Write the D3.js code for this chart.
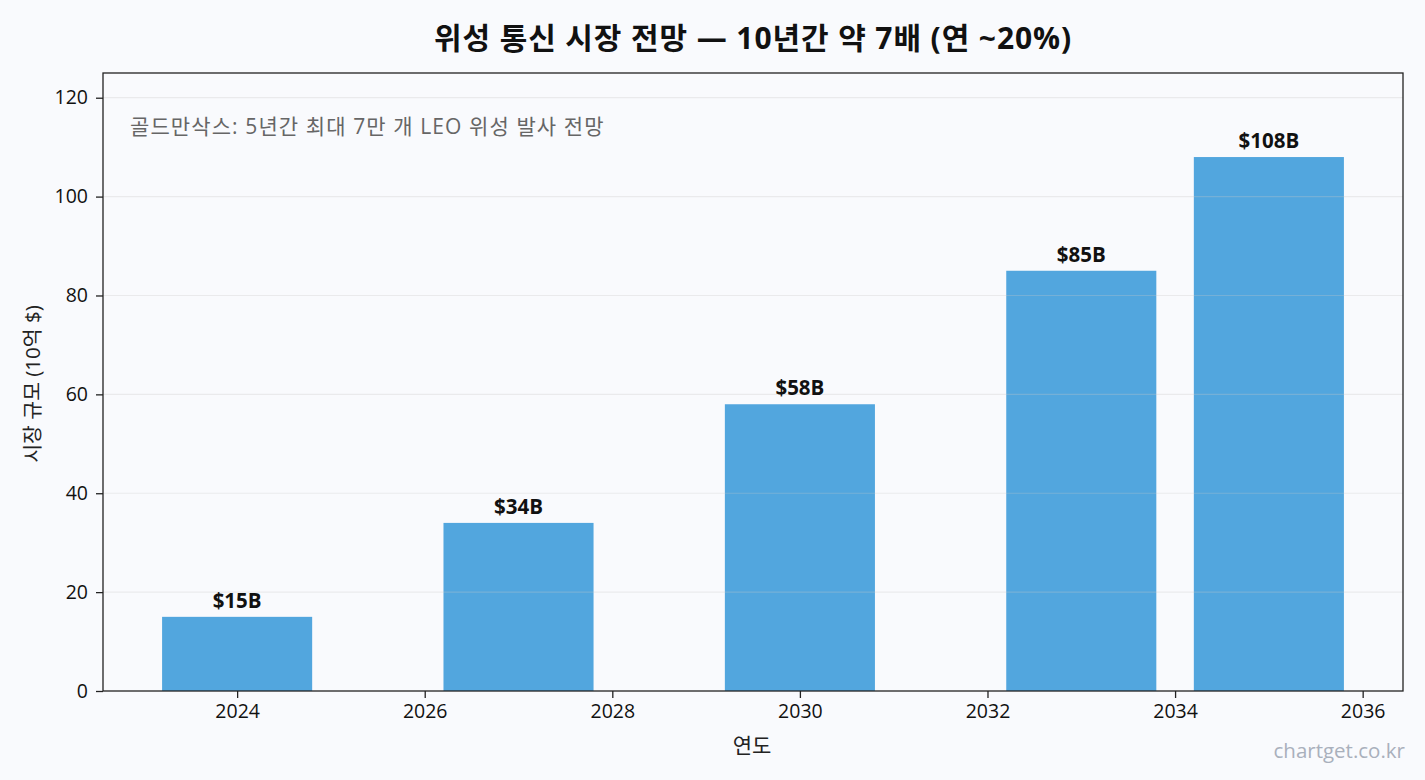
<!DOCTYPE html>
<html><head><meta charset="utf-8">
<script src="https://cdn.jsdelivr.net/npm/d3@7"></script>
<style>
html,body{margin:0;padding:0;background:#f9fafd;}
svg{display:block;}
text{font-family:"Open Sans","Noto Sans CJK KR",sans-serif;}
</style></head>
<body>
<svg id="chart" width="1425" height="780"></svg>
<script>
const years = [2024, 2027, 2030, 2033, 2035];
const values = [15, 34, 58, 85, 108];
const valueLabels = ["$15B", "$34B", "$58B", "$85B", "$108B"];
const xTicks = [2024, 2026, 2028, 2030, 2032, 2034, 2036];
const yTicks = [0, 20, 40, 60, 80, 100, 120];
const titleText = "위성 통신 시장 전망 — 10년간 약 7배 (연 ~20%)";
const noteText = "골드만삭스: 5년간 최대 7만 개 LEO 위성 발사 전망";
const xLabel = "연도";
const yLabel = "시장 규모 (10억 $)";
const watermark = "chartget.co.kr";

const svg = d3.select("#chart");
const W = 1425, H = 780;
const m = {l:103, r:1403, t:73, b:691};
svg.append("rect").attr("width",W).attr("height",H).attr("fill","#f9fafd");

const barW = 1.6;
const x = d3.scaleLinear().domain([2022.57, 2036.43]).range([m.l, m.r]);
const y = d3.scaleLinear().domain([0, 125]).range([m.b, m.t]);

// bars
svg.append("g").selectAll("rect").data(years).join("rect")
  .attr("x", d => x(d - barW/2))
  .attr("width", d => x(d + barW/2) - x(d - barW/2))
  .attr("y", (d,i) => y(values[i]))
  .attr("height", (d,i) => y(0) - y(values[i]))
  .attr("fill", "#52a6de");

// grid on top
svg.append("g").selectAll("line").data(yTicks.slice(1)).join("line")
  .attr("x1", m.l).attr("x2", m.r)
  .attr("y1", d => y(d)).attr("y2", d => y(d))
  .attr("stroke", "#c8c8c8").attr("stroke-opacity", 0.3).attr("stroke-width", 1.2);

// value labels
svg.append("g").selectAll("text").data(years).join("text")
  .attr("x", d => x(d))
  .attr("y", (d,i) => y(values[i]) - 9)
  .attr("text-anchor", "middle")
  .attr("font-size", 20.5).attr("font-weight", "bold").attr("fill", "#111")
  .text((d,i) => valueLabels[i]);

// axes
const xAxis = svg.append("g").attr("transform", `translate(0,${m.b})`)
  .call(d3.axisBottom(x).tickValues(xTicks).tickFormat(d3.format("d")).tickSize(7).tickPadding(6));
const yAxis = svg.append("g").attr("transform", `translate(${m.l},0)`)
  .call(d3.axisLeft(y).tickValues(yTicks).tickSize(7).tickPadding(8));
[xAxis, yAxis].forEach(a => {
  a.select(".domain").remove();
  a.selectAll(".tick line").attr("stroke", "#222").attr("stroke-width", 1.3);
  a.selectAll(".tick text").attr("font-size", 19.5).attr("fill", "#111")
    .attr("font-family", "\"Open Sans\",sans-serif");
});

// frame
svg.append("rect").attr("x", m.l).attr("y", m.t)
  .attr("width", m.r - m.l).attr("height", m.b - m.t)
  .attr("fill", "none").attr("stroke", "#222").attr("stroke-width", 1.3);

// title
svg.append("text").attr("x", 753).attr("y", 49).attr("text-anchor", "middle")
  .attr("font-size", 30).attr("letter-spacing", 0.9).attr("font-weight", "bold").attr("fill", "#111").text(titleText);

// note
svg.append("text").attr("x", 130).attr("y", 134)
  .attr("font-size", 21).attr("letter-spacing", 1.1).attr("fill", "#666").text(noteText);

// axis labels
svg.append("text").attr("x", 752).attr("y", 753).attr("text-anchor", "middle")
  .attr("font-size", 21).attr("fill", "#222").text(xLabel);
svg.append("text").attr("transform", "translate(40,384) rotate(-90)").attr("text-anchor", "middle")
  .attr("font-size", 20.5).attr("fill", "#222").text(yLabel);

// watermark
svg.append("text").attr("x", 1405).attr("y", 758).attr("text-anchor", "end")
  .attr("font-size", 20.5).attr("fill", "#a9b0bc").text(watermark);
</script>
</body></html>
